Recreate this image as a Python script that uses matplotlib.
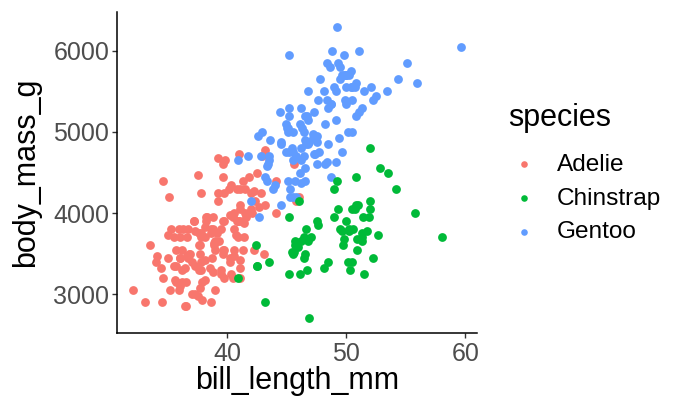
import matplotlib
matplotlib.use('Agg')
import matplotlib.pyplot as plt

# penguins: bill length (mm) and body mass (g), by species
adelie_bill = [39.1, 39.5, 40.3, 36.7, 39.3, 38.9, 39.2, 34.1, 42.0, 37.8, 37.8, 41.1, 38.6, 34.6, 36.6,
               38.7, 42.5, 34.4, 46.0, 37.8, 37.7, 35.9, 38.2, 38.8, 35.3, 40.6, 40.5, 37.9, 40.5, 39.5,
               37.2, 39.5, 40.9, 36.4, 39.2, 38.8, 42.2, 37.6, 39.8, 36.5, 40.8, 36.0, 44.1, 37.0, 39.6,
               41.1, 37.5, 36.0, 42.3, 39.6, 40.1, 35.0, 42.0, 34.5, 41.4, 39.0, 40.6, 36.5, 37.6, 35.7,
               41.3, 37.6, 41.1, 36.4, 41.6, 35.5, 41.1, 35.9, 41.8, 33.5, 39.7, 39.6, 45.8, 35.5, 42.8,
               40.9, 37.2, 36.2, 42.1, 34.6, 42.9, 36.7, 35.1, 37.3, 41.3, 36.3, 36.9, 38.3, 38.9, 35.7,
               41.1, 34.0, 39.6, 36.2, 40.8, 38.1, 40.3, 33.1, 43.2, 35.0, 41.0, 37.7, 37.8, 37.9, 39.7,
               38.6, 38.2, 38.1, 43.2, 38.1, 45.6, 39.7, 42.2, 39.6, 42.7, 38.6, 37.3, 35.7, 41.1, 36.2,
               37.7, 40.2, 41.4, 35.2, 40.6, 38.8, 41.5, 39.0, 44.1, 38.5, 43.1, 36.8, 37.5, 38.1, 41.1,
               35.6, 40.2, 37.0, 39.7, 40.2, 40.6, 32.1, 40.7, 37.3, 39.0, 39.2, 36.6, 36.0, 37.8, 36.0,
               41.5]
adelie_mass = [3750, 3800, 3250, 3450, 3650, 3625, 4675, 3475, 4250, 3300, 3700, 3200, 3800, 4400, 3700,
               3450, 4500, 3325, 4200, 3400, 3600, 3800, 3950, 3800, 3800, 3550, 3200, 3150, 3950, 3250,
               3900, 3300, 3900, 3325, 4150, 3950, 3550, 3300, 4650, 3150, 3900, 3100, 4400, 3000, 4600,
               3425, 2975, 3450, 4150, 3500, 4300, 3450, 4050, 2900, 3700, 3550, 3800, 2850, 3750, 3150,
               4400, 3600, 4050, 2850, 3950, 3350, 4100, 3050, 4450, 3600, 3900, 3550, 4150, 3700, 4250,
               3700, 3900, 3550, 4000, 3200, 4700, 3800, 4200, 3350, 3550, 3800, 3500, 3950, 3600, 3550,
               4300, 3400, 4450, 3300, 4300, 3700, 4350, 2900, 4100, 3725, 4725, 3075, 4250, 2925, 3550,
               3750, 3900, 3175, 4775, 3825, 4600, 3200, 4275, 3900, 4075, 2900, 3775, 3350, 3325, 3150,
               3500, 3450, 3875, 3050, 4000, 3275, 4300, 3050, 4000, 3325, 3500, 3500, 4475, 3425, 3900,
               3175, 3975, 3400, 4250, 3400, 3475, 3050, 3725, 3000, 3650, 4250, 3475, 3450, 3750, 3700,
               4000]

gentoo_bill = [46.1, 50.0, 48.7, 50.0, 47.6, 46.5, 45.4, 46.7, 43.3, 46.8, 40.9, 49.0, 45.5, 48.4, 45.8,
               49.3, 42.0, 49.2, 46.2, 48.7, 50.2, 45.1, 46.5, 46.3, 42.9, 46.1, 44.5, 47.8, 48.2, 50.0,
               47.3, 42.8, 45.1, 59.6, 49.1, 48.4, 42.6, 44.4, 44.0, 48.7, 42.7, 49.6, 45.3, 49.6, 50.5,
               43.6, 45.5, 50.5, 44.9, 45.2, 46.6, 48.5, 45.1, 50.1, 46.5, 45.0, 43.8, 45.5, 43.2, 50.4,
               45.3, 46.2, 45.7, 54.3, 45.8, 49.8, 46.2, 49.5, 43.5, 50.7, 47.7, 46.4, 48.2, 46.5, 46.4,
               48.6, 47.5, 51.1, 45.2, 45.2, 49.1, 52.5, 47.4, 50.0, 44.9, 50.8, 43.4, 51.3, 47.5, 52.1,
               47.5, 52.2, 45.5, 49.5, 44.5, 50.8, 49.4, 46.9, 48.4, 51.1, 48.5, 55.9, 47.2, 49.1, 47.3,
               46.8, 41.7, 53.4, 43.3, 48.1, 50.5, 49.8, 43.5, 51.5, 46.2, 55.1, 44.5, 48.8, 47.2, 46.8,
               50.4, 45.2, 49.9]
gentoo_mass = [4500, 5700, 4450, 5700, 5400, 4550, 4800, 5200, 4400, 5150, 4650, 5550, 4650, 5850, 4200,
               5850, 4150, 6300, 4800, 5350, 5700, 5000, 4400, 5050, 5000, 5100, 4100, 5650, 4600, 5550,
               5250, 4700, 5050, 6050, 5150, 5400, 4950, 5250, 4350, 5350, 3950, 5700, 4300, 4750, 5550,
               4900, 4200, 5400, 5100, 5300, 4850, 5300, 4400, 5000, 4900, 5050, 4300, 5000, 4450, 5550,
               4200, 5300, 4400, 5650, 4700, 5700, 4650, 5800, 4700, 5550, 4750, 5000, 5100, 5200, 4700,
               5800, 4600, 6000, 4750, 5950, 4625, 5450, 4725, 5350, 4750, 5600, 4600, 5300, 4875, 5550,
               4950, 5400, 4750, 5650, 4850, 5200, 4925, 4875, 4625, 5250, 4850, 5600, 4975, 5500, 4725,
               5500, 4700, 5500, 4575, 5500, 5000, 5950, 4650, 5500, 4375, 5850, 4875, 6000, 4925, 4850,
               5750, 5200, 5400]

chinstrap_bill = [46.5, 50.0, 51.3, 45.4, 52.7, 45.2, 46.1, 51.3, 46.0, 51.3, 46.6, 51.7, 47.0, 52.0,
                  45.9, 50.5, 50.3, 58.0, 46.4, 49.2, 42.4, 48.5, 43.2, 50.6, 46.7, 52.0, 50.5, 49.5,
                  46.4, 52.8, 40.9, 54.2, 42.5, 51.0, 49.7, 47.5, 47.6, 52.0, 46.9, 53.5, 49.0, 46.2,
                  50.9, 45.5, 50.9, 50.8, 50.1, 49.0, 51.5, 49.8, 48.1, 51.4, 45.7, 50.7, 42.5, 52.2,
                  45.2, 49.3, 50.2, 45.6, 51.9, 46.8, 45.7, 55.8, 43.5, 49.6, 50.8, 50.2]
chinstrap_mass = [3500, 3900, 3650, 3525, 3725, 3950, 3250, 3750, 4150, 3700, 3800, 3775, 3700, 4050,
                  3575, 4050, 3300, 3700, 3450, 4400, 3600, 3400, 2900, 3800, 3300, 4150, 3400, 3800,
                  3700, 4550, 3200, 4300, 3350, 4100, 3600, 3900, 3850, 4800, 2700, 4500, 3950, 3650,
                  3550, 3500, 3675, 4450, 3400, 4300, 3250, 3675, 3325, 3950, 3600, 4050, 3350, 3450,
                  3250, 4050, 3800, 3525, 3950, 3650, 3650, 4000, 3400, 3775, 4100, 3775]

species = ['Adelie', 'Chinstrap', 'Gentoo']
colors = {'Adelie': '#F8766D', 'Chinstrap': '#00BA38', 'Gentoo': '#619CFF'}

plt.rcParams['font.family'] = ['Liberation Sans', 'DejaVu Sans']

fig = plt.figure(figsize=(6.74, 4.01), dpi=100)
ax = fig.add_axes([0.1736, 0.1696, 0.534, 0.8004])

# same order as the rows of the data set
pts = {}
pts['Adelie'] = ax.scatter(adelie_bill, adelie_mass, s=40, color=colors['Adelie'], linewidths=0)
pts['Gentoo'] = ax.scatter(gentoo_bill, gentoo_mass, s=40, color=colors['Gentoo'], linewidths=0)
pts['Chinstrap'] = ax.scatter(chinstrap_bill, chinstrap_mass, s=40, color=colors['Chinstrap'], linewidths=0)

ax.set_xlim(30.725, 60.975)
ax.set_ylim(2520, 6480)
ax.set_xticks([40, 50, 60])
ax.set_yticks([3000, 4000, 5000, 6000])

for side in ['top', 'right']:
    ax.spines[side].set_visible(False)
for side in ['left', 'bottom']:
    ax.spines[side].set_linewidth(1.1)
    ax.spines[side].set_color('black')
ax.tick_params(length=3.5, width=1.0, color='#333333', labelsize=18, labelcolor='#4D4D4D')
ax.tick_params(axis='x', pad=3)
ax.tick_params(axis='y', pad=2)

ax.set_xlabel('bill_length_mm', fontsize=22, labelpad=0)
ax.set_ylabel('body_mass_g', fontsize=22, labelpad=9)

# legend title drawn separately so its gap to the keys can be set
fig.text(508 / 674, 1 - 118 / 401, 'species', fontsize=22, ha='left', va='center')
leg = fig.legend([pts[s] for s in species], species,
                 loc='upper left', bbox_to_anchor=(0.759, 0.617), frameon=False,
                 fontsize=17.6, markerscale=0.75, borderpad=0, borderaxespad=0,
                 handlelength=1.0, handletextpad=0.85, labelspacing=0.48)

plt.savefig('out.png', dpi=100)
